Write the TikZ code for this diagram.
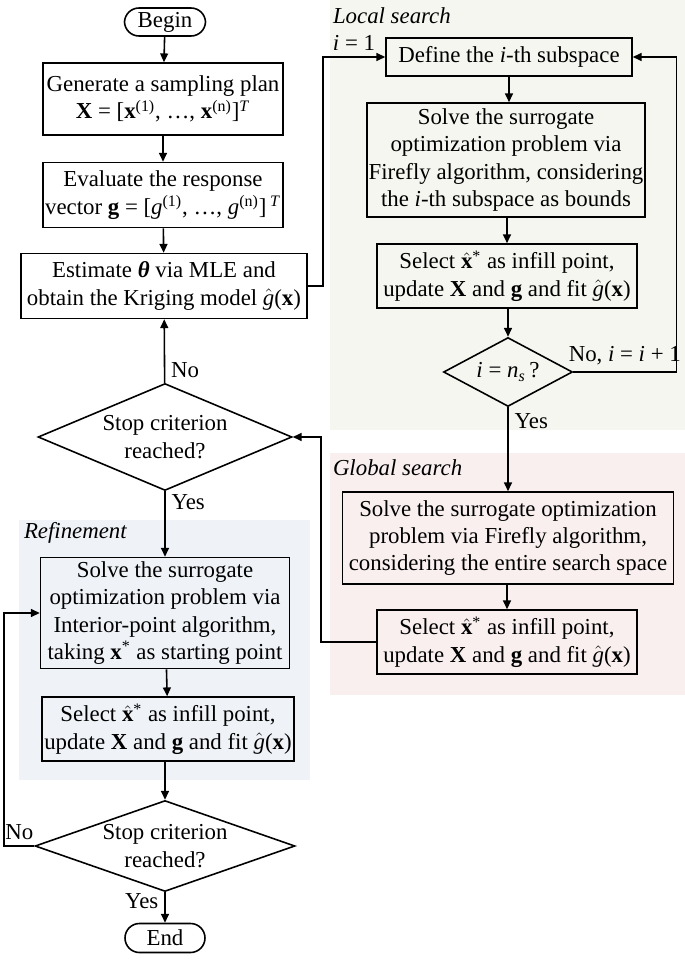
\documentclass[tikz,border=0pt]{standalone}
\usepackage{amsmath,amssymb}
\usepackage{fontspec}
\setmainfont{Liberation Serif}
\usepackage{tikz}
\usetikzlibrary{arrows.meta,positioning,calc,shapes.geometric}
\definecolor{localbg}{RGB}{246,246,241}
\definecolor{globalbg}{RGB}{249,239,239}
\definecolor{refinebg}{RGB}{239,243,248}
\tikzset{box/.style={draw,rectangle,line width=0.9pt,align=center,inner sep=1pt}}
\tikzset{decision/.style={draw,diamond,line width=0.9pt,align=center,inner sep=-3pt}}
\tikzset{terminal/.style={draw,rectangle,rounded corners=0.29cm,line width=0.9pt,align=center,inner sep=1pt}}
\tikzset{region/.style={inner sep=0pt,outer sep=0pt}}
\newcommand{\xhat}{$\hat{\textbf{x}}$\textsuperscript{*}}
\newcommand{\ghat}{$\hat{\textit{g}}$(\textbf{x})}

\begin{document}
\begin{tikzpicture}[x=0.02cm, y=-0.02cm, ->, >={Triangle[length=5pt,width=4.5pt]}, line width=0.9pt, font=\fontsize{13}{15.5}\selectfont]
\useasboundingbox (0,0) rectangle (685,962);
    % shaded regions
    \fill[localbg] (330,0) rectangle (685,430);
    \fill[globalbg] (330,453) rectangle (685,695);
    \fill[refinebg] (19,520) rectangle (310,780);
    \node[region,anchor=west] (Tloc) at (333,16) {\textit{Local search}};
    \node[region,anchor=west] (Tglob) at (333,468) {\textit{Global search}};
    \node[region,anchor=west] (Tref) at (24,533) {\textit{Refinement}};

    % main column
    \node[terminal,minimum width=1.62cm,minimum height=0.56cm] (begin) at (165,22) {Begin};
    \node[box,minimum width=4.8cm,minimum height=1.44cm] (plan) at (163,99) {Generate a sampling plan\\\textbf{X} = [\textbf{x}\textsuperscript{(1)}, …, \textbf{x}\textsuperscript{(n)}]\textsuperscript{\textit{T}}};
    \node[box,minimum width=4.8cm,minimum height=1.3cm] (eval) at (163,195) {Evaluate the response\\vector \textbf{g} = [\textit{g}\textsuperscript{(1)}, …, \textit{g}\textsuperscript{(n)}]\,\textsuperscript{\textit{T}}};
    \node[box,minimum width=5.72cm,minimum height=1.3cm] (est) at (164,286) {Estimate \textbf{\textit{θ}} via MLE and\\obtain the Kriging model \ghat};
    \node[decision,aspect=2.4,minimum width=5.08cm,minimum height=2.14cm] (stop1) at (165,437) {Stop criterion\\reached?};
    \node[box,minimum width=4.98cm,minimum height=2.22cm] (rsolve) at (165,613) {Solve the surrogate\\optimization problem via\\Interior-point algorithm,\\taking \textbf{x}\textsuperscript{*} as starting point};
    \node[box,minimum width=5.04cm,minimum height=1.28cm] (rsel) at (168,729) {Select \xhat{} as infill point,\\update \textbf{X} and \textbf{g} and fit \ghat};
    \node[decision,aspect=2.85,minimum width=5.2cm,minimum height=1.82cm] (stop2) at (165,846) {Stop criterion\\reached?};
    \node[terminal,minimum width=1.6cm,minimum height=0.58cm] (end) at (165,938) {End};

    % local search column
    \node[box,minimum width=4.92cm,minimum height=0.76cm] (sub) at (509,57) {Define the \textit{i}-th subspace};
    \node[box,minimum width=5.56cm,minimum height=2.28cm] (lsolve) at (506,160) {Solve the surrogate\\optimization problem via\\Firefly algorithm, considering\\the \textit{i}-th subspace as bounds};
    \node[box,minimum width=5.2cm,minimum height=1.28cm] (lsel) at (507,276) {Select \xhat{} as infill point,\\update \textbf{X} and \textbf{g} and fit \ghat};
    \node[decision,aspect=1.87,minimum width=2.58cm,minimum height=1.38cm] (last) at (508,372) {\textit{i} = \textit{n}\textsubscript{\textit{s}}\,?};

    % global search column
    \node[box,minimum width=6.62cm,minimum height=1.84cm] (gsolve) at (508,538) {Solve the surrogate optimization\\problem via Firefly algorithm,\\considering the entire search space};
    \node[box,minimum width=5.2cm,minimum height=1.28cm] (gsel) at (507,642) {Select \xhat{} as infill point,\\update \textbf{X} and \textbf{g} and fit \ghat};

    \path (begin) edge (plan);
    \path (plan) edge (eval);
    \path (eval) edge (est);
    \path (stop1) edge node[pos=0.2,right] {No} (est);
    \path (stop1) edge node[pos=0.17,right] {Yes} (rsolve);
    \path (rsolve) edge (rsel);
    \path (rsel.south -| stop2.north) edge (stop2);
    \path (stop2) edge node[pos=0.3,left] {Yes} (end);
    \draw (stop2.west) -- node[above] {No} ++(-30,0) |- (rsolve.west);

    \draw (est.east) -- ++(15,0) |- node[pos=0.75,above] {\textit{i} = 1} (sub.west);
    \path (sub) edge (lsolve.north -| sub.south);
    \path (lsolve.south -| lsel.north) edge (lsel);
    \path (lsel.south -| last.north) edge (last);
    \draw (last.east) -- node[above] {No, \textit{i} = \textit{i} + 1} ++(103,0) |- (sub.east);
    \path (last) edge node[pos=0.16,right] {Yes} (gsolve);
    \path (gsolve.south -| gsel.north) edge (gsel);
    \draw (gsel.west) -- ++(-55,0) |- (stop1.east);
\end{tikzpicture}
\end{document}
